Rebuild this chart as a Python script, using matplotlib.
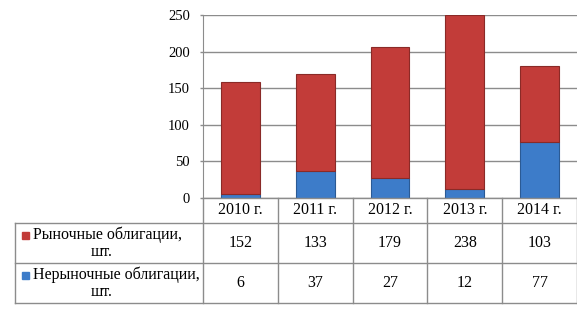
import matplotlib.pyplot as plt
from matplotlib.patches import Rectangle

years = ['2010 г.', '2011 г.', '2012 г.', '2013 г.', '2014 г.']
market = [152, 133, 179, 238, 103]
nonmarket = [6, 37, 27, 12, 77]
row_labels = ['Рыночные облигации,', 'Нерыночные облигации,']
unit = 'шт.'
red = '#C23C39'
blue = '#3D7CC9'

plt.rcParams['font.family'] = ['Liberation Serif', 'DejaVu Serif']
W, H = 577, 312
fig = plt.figure(figsize=(W / 100, H / 100), dpi=100)

# plot area in pixels
x0, x1, ytop, ybot = 203, 577, 15, 198
ax = fig.add_axes([x0 / W, 1 - ybot / H, (x1 - x0) / W, (ybot - ytop) / H])
pos = range(len(years))
ax.bar(pos, nonmarket, width=0.52, color=blue, edgecolor='#2B5A94', linewidth=0.8, zorder=3)
ax.bar(pos, market, width=0.52, bottom=nonmarket, color=red, edgecolor='#8A2A27',
       linewidth=0.8, zorder=3)
ax.set_xlim(-0.5, len(years) - 0.5)
ax.set_ylim(0, 250)
ax.set_yticks(range(0, 251, 50))
ax.yaxis.grid(True, color='#8C8C8C', linewidth=1)
ax.set_xticks([])
ax.tick_params(axis='y', length=2.5, width=1, color='#8C8C8C', pad=7, labelsize=10.5)
for s in ['top', 'right', 'bottom']:
    ax.spines[s].set_visible(False)
ax.spines['left'].set_color('#8C8C8C')

# data table
tb = fig.add_axes([0, 0, 1, 1])
tb.set_xlim(0, W)
tb.set_ylim(H, 0)
tb.axis('off')
lc = '#8C8C8C'
col_w = (x1 - x0) / len(years)
rows = [ybot, 223, 263, 303]
tb.plot([x0, x1], [rows[0], rows[0]], color=lc, lw=1)
for y in rows[1:]:
    tb.plot([15, x1], [y, y], color=lc, lw=1)
tb.plot([15, 15], [rows[1], rows[3]], color=lc, lw=1)
for i in range(len(years) + 1):
    tb.plot([x0 + i * col_w] * 2, [rows[0], rows[3]], color=lc, lw=1)
fs = 11.5
for i, y in enumerate(years):
    tb.text(x0 + (i + 0.5) * col_w, (rows[0] + rows[1]) / 2, y, ha='center', va='center', fontsize=fs)
for r, (lab, vals, c) in enumerate(zip(row_labels, [market, nonmarket], [red, blue])):
    yc = (rows[r + 1] + rows[r + 2]) / 2
    tb.add_patch(Rectangle((22, yc - 11), 7, 7, color=c))
    tb.text(33, yc - 8, lab, ha='left', va='center', fontsize=fs)
    tb.text(102, yc + 9, unit, ha='center', va='center', fontsize=fs)
    for i, v in enumerate(vals):
        tb.text(x0 + (i + 0.5) * col_w, yc, str(v), ha='center', va='center', fontsize=fs)

fig.savefig('out.png', dpi=100)
